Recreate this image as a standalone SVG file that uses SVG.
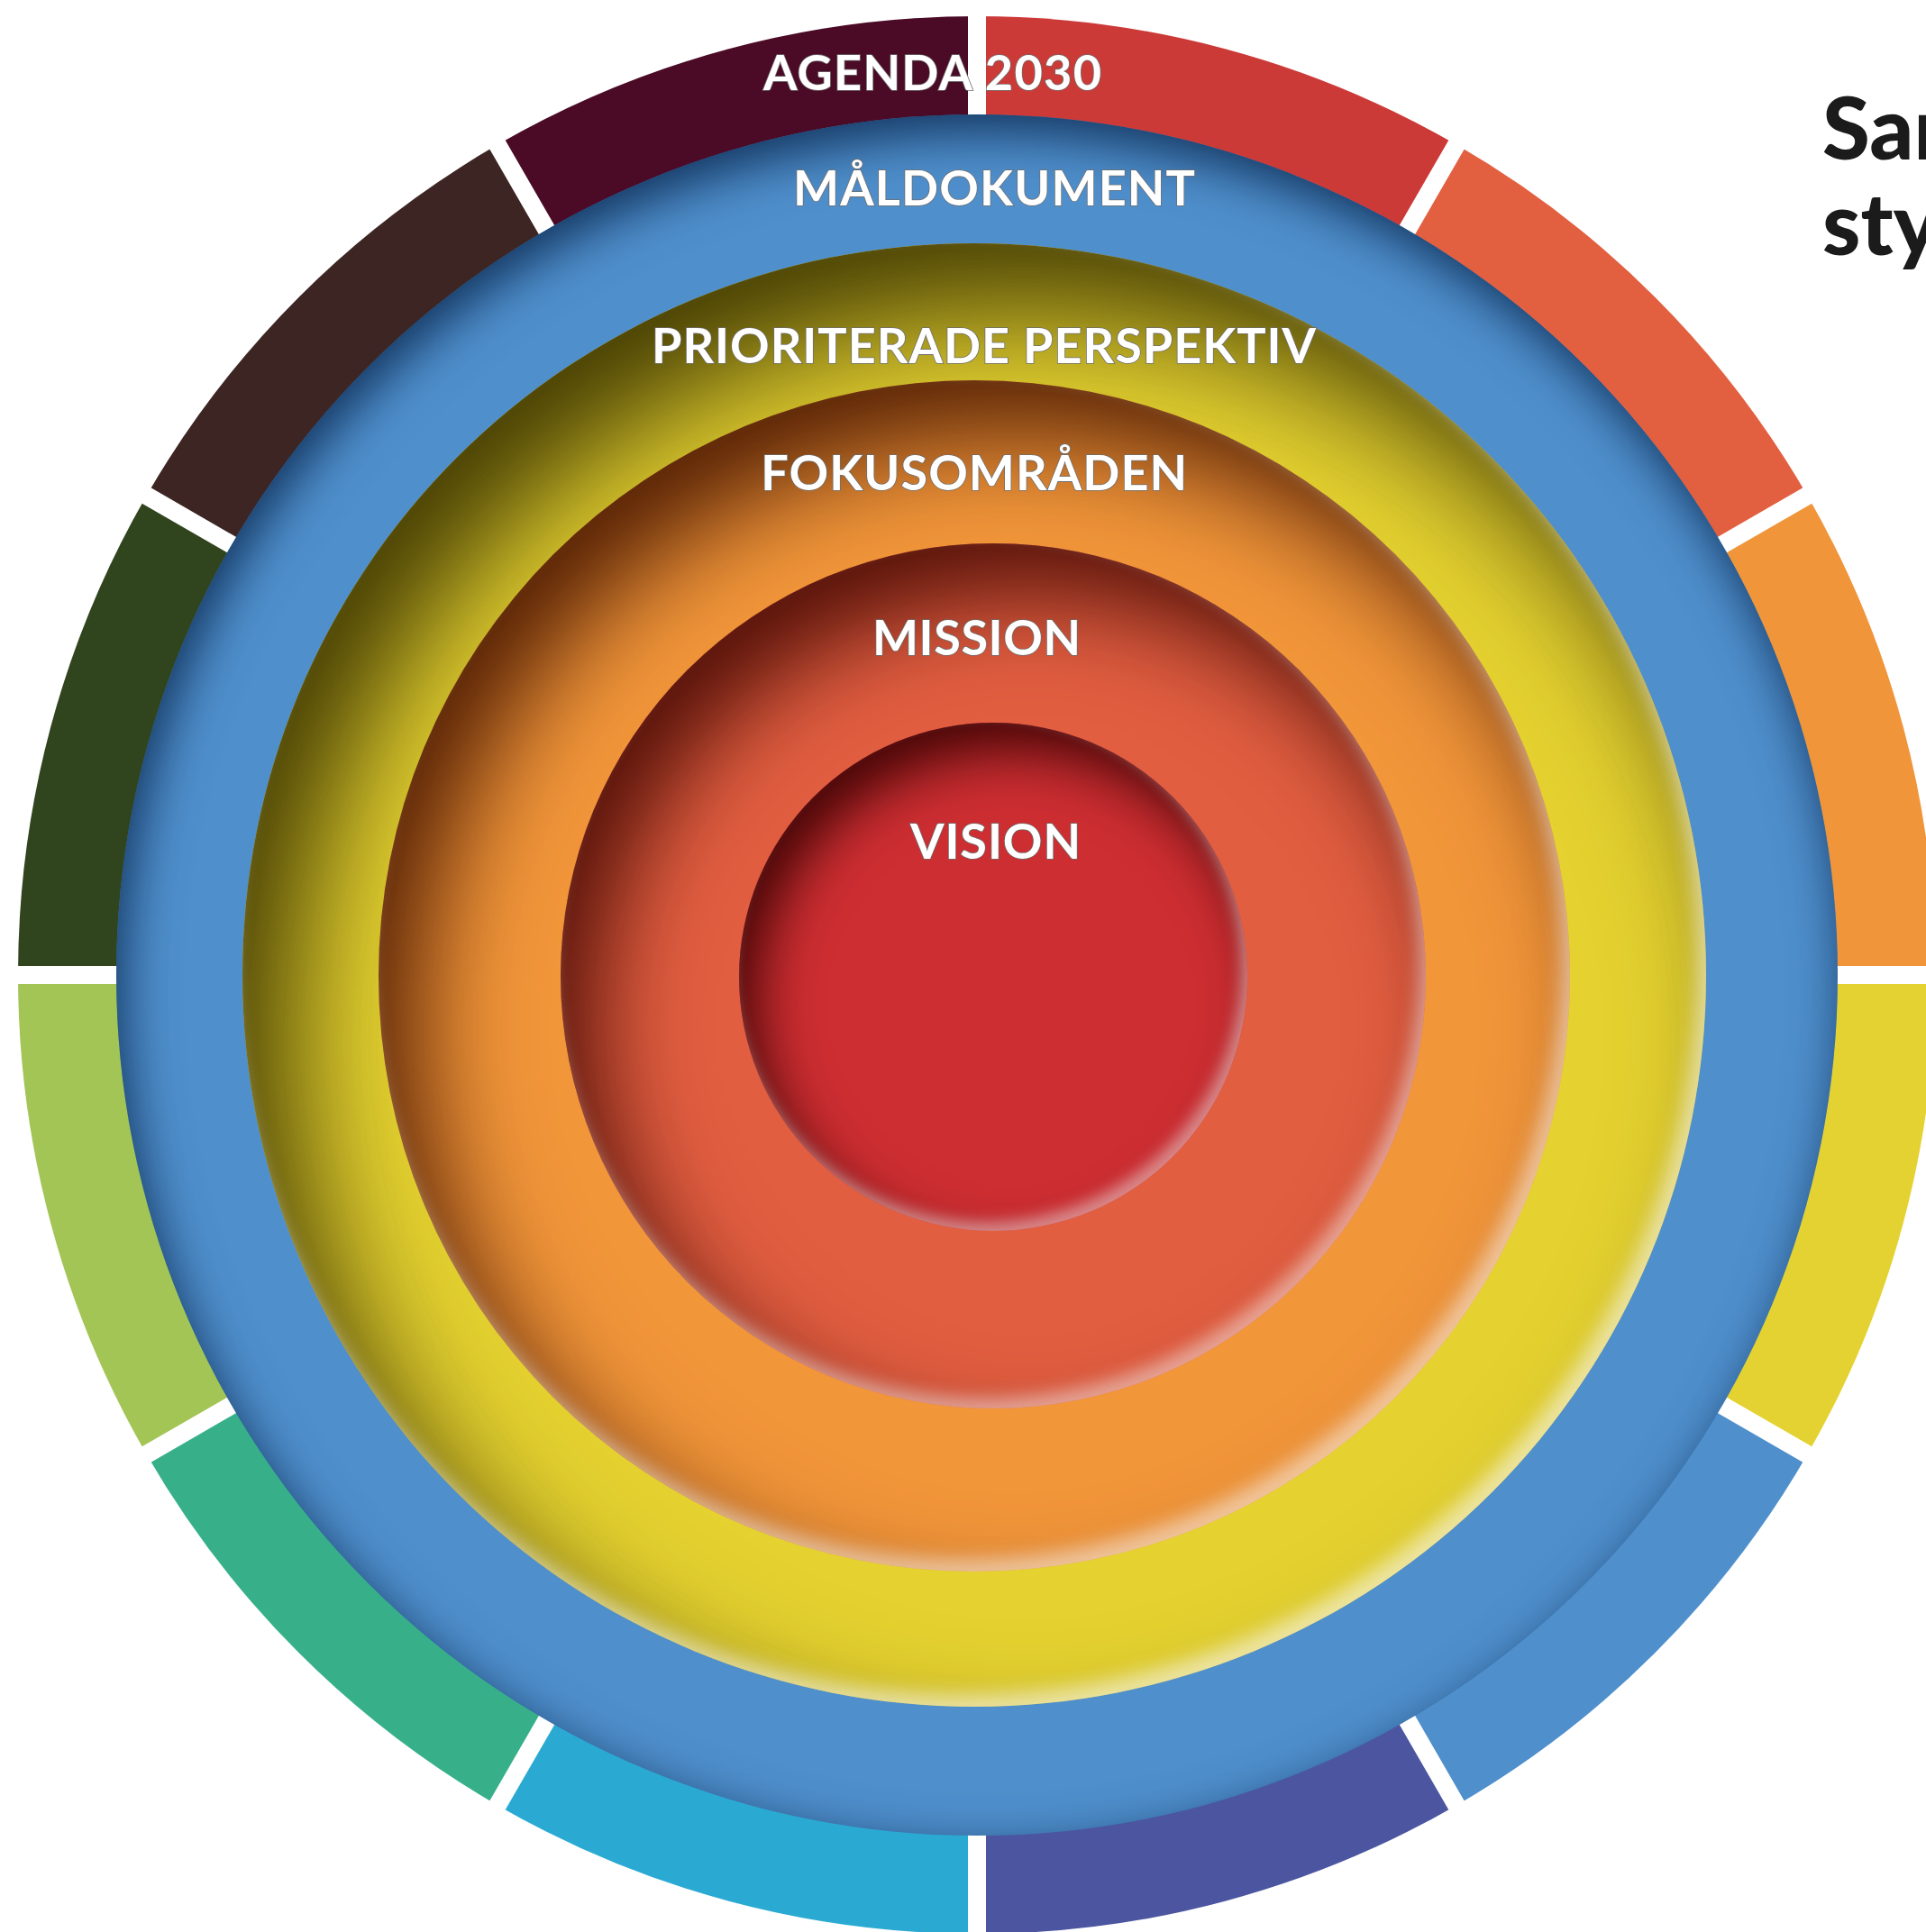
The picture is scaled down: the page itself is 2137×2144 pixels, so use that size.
<svg xmlns="http://www.w3.org/2000/svg" width="2137" height="2144" viewBox="0 0 2137 2144">
<style>
.lbl{font-family:Lato,"Open Sans","Liberation Sans",sans-serif;font-weight:700;font-size:54px;fill:#ffffff;stroke:#6e6e6e;stroke-width:1.6px;paint-order:stroke;text-anchor:middle}
.ttl{font-family:Lato,"Open Sans","Liberation Sans",sans-serif;font-weight:900;font-size:96px;fill:#1b1b1b}
.gap{stroke:#ffffff;stroke-width:20;fill:none}
</style>
<defs>
<filter id="fBlue" x="-20%" y="-20%" width="140%" height="140%" color-interpolation-filters="sRGB">
<feComponentTransfer in="SourceAlpha" result="inv"><feFuncA type="table" tableValues="1 0"/></feComponentTransfer>
<feOffset in="inv" dx="8" dy="20" result="o1"/>
<feGaussianBlur in="o1" stdDeviation="28" result="b1"/>
<feFlood flood-color="#0b2a52" flood-opacity="0.9"/>
<feComposite in2="b1" operator="in"/>
<feComposite in2="SourceAlpha" operator="in" result="sh"/>
<feMerge><feMergeNode in="SourceGraphic"/><feMergeNode in="sh"/></feMerge>
</filter>
<filter id="fYellow" x="-20%" y="-20%" width="140%" height="140%" color-interpolation-filters="sRGB">
<feComponentTransfer in="SourceAlpha" result="inv"><feFuncA type="table" tableValues="1 0"/></feComponentTransfer>
<feOffset in="inv" dx="55" dy="75" result="o1"/>
<feGaussianBlur in="o1" stdDeviation="70" result="b1"/>
<feFlood flood-color="#3a3200" flood-opacity="0.95"/>
<feComposite in2="b1" operator="in"/>
<feComposite in2="SourceAlpha" operator="in" result="sh"/>
<feOffset in="inv" dx="-10" dy="-14" result="o2"/>
<feGaussianBlur in="o2" stdDeviation="10" result="b2"/>
<feFlood flood-color="#ffffff" flood-opacity="0.55"/>
<feComposite in2="b2" operator="in"/>
<feComposite in2="SourceAlpha" operator="in" result="hl"/>
<feMerge><feMergeNode in="SourceGraphic"/><feMergeNode in="sh"/><feMergeNode in="hl"/></feMerge>
</filter>
<filter id="fOrange" x="-20%" y="-20%" width="140%" height="140%" color-interpolation-filters="sRGB">
<feComponentTransfer in="SourceAlpha" result="inv"><feFuncA type="table" tableValues="1 0"/></feComponentTransfer>
<feOffset in="inv" dx="45" dy="60" result="o1"/>
<feGaussianBlur in="o1" stdDeviation="60" result="b1"/>
<feFlood flood-color="#4a1800" flood-opacity="0.95"/>
<feComposite in2="b1" operator="in"/>
<feComposite in2="SourceAlpha" operator="in" result="sh"/>
<feOffset in="inv" dx="-10" dy="-14" result="o2"/>
<feGaussianBlur in="o2" stdDeviation="10" result="b2"/>
<feFlood flood-color="#ffffff" flood-opacity="0.5"/>
<feComposite in2="b2" operator="in"/>
<feComposite in2="SourceAlpha" operator="in" result="hl"/>
<feMerge><feMergeNode in="SourceGraphic"/><feMergeNode in="sh"/><feMergeNode in="hl"/></feMerge>
</filter>
<filter id="fMission" x="-20%" y="-20%" width="140%" height="140%" color-interpolation-filters="sRGB">
<feComponentTransfer in="SourceAlpha" result="inv"><feFuncA type="table" tableValues="1 0"/></feComponentTransfer>
<feOffset in="inv" dx="40" dy="55" result="o1"/>
<feGaussianBlur in="o1" stdDeviation="55" result="b1"/>
<feFlood flood-color="#4a0c04" flood-opacity="0.95"/>
<feComposite in2="b1" operator="in"/>
<feComposite in2="SourceAlpha" operator="in" result="sh"/>
<feOffset in="inv" dx="-8" dy="-12" result="o2"/>
<feGaussianBlur in="o2" stdDeviation="9" result="b2"/>
<feFlood flood-color="#ffffff" flood-opacity="0.45"/>
<feComposite in2="b2" operator="in"/>
<feComposite in2="SourceAlpha" operator="in" result="hl"/>
<feMerge><feMergeNode in="SourceGraphic"/><feMergeNode in="sh"/><feMergeNode in="hl"/></feMerge>
</filter>
<filter id="fVision" x="-20%" y="-20%" width="140%" height="140%" color-interpolation-filters="sRGB">
<feComponentTransfer in="SourceAlpha" result="inv"><feFuncA type="table" tableValues="1 0"/></feComponentTransfer>
<feOffset in="inv" dx="20" dy="30" result="o1"/>
<feGaussianBlur in="o1" stdDeviation="32" result="b1"/>
<feFlood flood-color="#3a0202" flood-opacity="0.95"/>
<feComposite in2="b1" operator="in"/>
<feComposite in2="SourceAlpha" operator="in" result="sh"/>
<feOffset in="inv" dx="-7" dy="-10" result="o2"/>
<feGaussianBlur in="o2" stdDeviation="8" result="b2"/>
<feFlood flood-color="#ffffff" flood-opacity="0.45"/>
<feComposite in2="b2" operator="in"/>
<feComposite in2="SourceAlpha" operator="in" result="hl"/>
<feMerge><feMergeNode in="SourceGraphic"/><feMergeNode in="sh"/><feMergeNode in="hl"/></feMerge>
</filter>
</defs>
<rect x="0" y="0" width="2137" height="2144" fill="#ffffff"/>

<g id="agenda2030">
<g id="agenda-segments">
<path d="M1084 1082 L1084 18 A1064 1064 0 0 1 1616 160.6 Z" fill="#cc3a38"/>
<path d="M1084 1082 L1616 160.6 A1064 1064 0 0 1 2005.4 550 Z" fill="#e25f40"/>
<path d="M1084 1082 L2005.4 550 A1064 1064 0 0 1 2148 1082 Z" fill="#f0953a"/>
<path d="M1084 1082 L2148 1082 A1064 1064 0 0 1 2005.4 1614 Z" fill="#e4d232"/>
<path d="M1084 1082 L2005.4 1614 A1064 1064 0 0 1 1616 2003.4 Z" fill="#4e8fcc"/>
<path d="M1084 1082 L1616 2003.4 A1064 1064 0 0 1 1084 2146 Z" fill="#4c56a0"/>
<path d="M1084 1082 L1084 2146 A1064 1064 0 0 1 552 2003.4 Z" fill="#2aaad3"/>
<path d="M1084 1082 L552 2003.4 A1064 1064 0 0 1 162.6 1614 Z" fill="#37b08a"/>
<path d="M1084 1082 L162.6 1614 A1064 1064 0 0 1 20 1082 Z" fill="#a2c556"/>
<path d="M1084 1082 L20 1082 A1064 1064 0 0 1 162.6 550 Z" fill="#30441e"/>
<path d="M1084 1082 L162.6 550 A1064 1064 0 0 1 552 160.6 Z" fill="#3c2522"/>
<path d="M1084 1082 L552 160.6 A1064 1064 0 0 1 1084 18 Z" fill="#4b0a26"/>
</g>
<g id="agenda-gaps" class="gap">
<line x1="1084" y1="1082" x2="1084" y2="0"/>
<line x1="1084" y1="1082" x2="1625" y2="145"/>
<line x1="1084" y1="1082" x2="2021" y2="541"/>
<line x1="1084" y1="1082" x2="2137" y2="1082"/>
<line x1="1084" y1="1082" x2="2021" y2="1623"/>
<line x1="1084" y1="1082" x2="1625" y2="2019"/>
<line x1="1084" y1="1082" x2="1084" y2="2144"/>
<line x1="1084" y1="1082" x2="543" y2="2019"/>
<line x1="1084" y1="1082" x2="147" y2="1623"/>
<line x1="1084" y1="1082" x2="0" y2="1082"/>
<line x1="1084" y1="1082" x2="147" y2="541"/>
<line x1="1084" y1="1082" x2="543" y2="145"/>
</g>
</g>

<g id="maldokument">
<circle cx="1084" cy="1082" r="955" fill="#4f8fcc" filter="url(#fBlue)"/>
</g>
<g id="prioriterade-perspektiv">
<circle cx="1081" cy="1082" r="812" fill="#e5d230" filter="url(#fYellow)"/>
</g>
<g id="fokusomraden">
<circle cx="1081" cy="1083" r="661" fill="#f2963a" filter="url(#fOrange)"/>
</g>
<g id="mission">
<circle cx="1102" cy="1083" r="480" fill="#e25e41" filter="url(#fMission)"/>
</g>
<g id="vision">
<circle cx="1102" cy="1084" r="282" fill="#cd2e32" filter="url(#fVision)"/>
</g>

<g id="labels">
<text class="lbl" x="1034.5" y="100" textLength="375">AGENDA 2030</text>
<text class="lbl" x="1103" y="228" textLength="446">MÅLDOKUMENT</text>
<text class="lbl" x="1091.5" y="403" textLength="737">PRIORITERADE PERSPEKTIV</text>
<text class="lbl" x="1080.7" y="544" textLength="473">FOKUSOMRÅDEN</text>
<text class="lbl" x="1083.5" y="727" textLength="231">MISSION</text>
<text class="lbl" x="1104.5" y="953" textLength="189">VISION</text>
</g>

<g id="title">
<text class="ttl" x="2022" y="177">Sam</text>
<text class="ttl" x="2022" y="283">sty</text>
</g>
</svg>
